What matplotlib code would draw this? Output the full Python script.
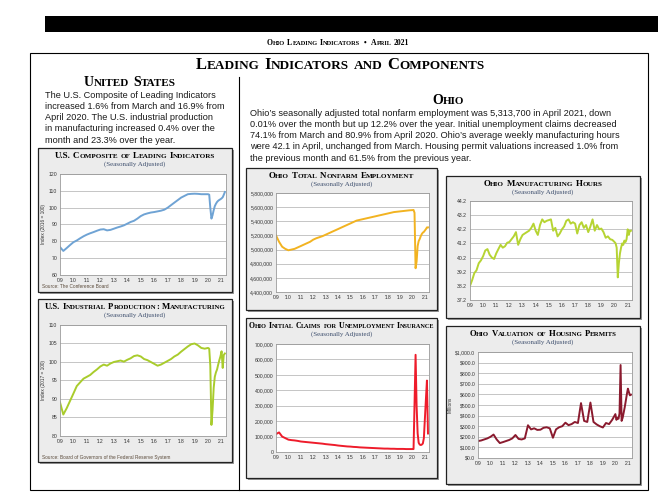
import numpy as np
import pandas as pd
import matplotlib
matplotlib.use('Agg')
import matplotlib.pyplot as plt
from matplotlib.patches import Rectangle
from matplotlib.offsetbox import TextArea, HPacker, AnnotationBbox

W, H = 658, 497
SERIF = 'Liberation Serif'
SANS = ['Liberation Sans', 'DejaVu Sans']
plt.rcParams['font.family'] = SANS

# ---- data (quarterly 2009-2019, monthly Jan 2020 - Apr 2021) ----
quarters = pd.date_range('2009-01-01', '2019-10-01', freq='QS')
bimonths = pd.date_range('2009-01-01', '2019-11-01', freq='2MS')
months = pd.date_range('2020-01-01', '2021-04-01', freq='MS')

composite_q = [76.6, 74.3, 76.0, 77.8, 79.5, 80.5, 81.8, 83.0, 84.0, 84.8, 85.5, 86.3,
               87.0, 87.2, 86.5, 86.8, 87.5, 88.2, 88.8, 89.5, 90.5, 91.5, 92.2, 93.5,
               95.0, 96.0, 96.6, 97.1, 97.4, 97.8, 98.2, 98.8, 100.0, 101.5, 103.0, 104.5,
               106.0, 107.0, 108.0, 108.2, 108.3, 108.2, 108.0, 108.0]
composite_m = [108.0, 107.7, 100.0, 93.5, 95.5, 98.5, 100.9, 102.3, 103.4, 104.1, 104.6, 105.0,
               105.5, 106.2, 107.6, 109.3]

ip_q = [89.1, 85.8, 87.5, 89.5, 91.5, 93.5, 94.5, 95.5, 96.0, 96.5, 97.3, 98.0,
        98.8, 99.3, 99.0, 99.6, 100.0, 100.2, 100.4, 100.1, 100.6, 101.0, 101.6, 101.8,
        101.5, 100.8, 100.5, 100.0, 99.5, 99.0, 99.3, 99.8, 100.3, 100.8, 101.5, 102.0,
        102.8, 103.5, 104.2, 104.8, 105.0, 104.5, 103.8, 103.6]
ip_m = [103.8, 103.6, 99.0, 83.0, 87.0, 93.0, 96.0, 97.2, 98.0, 99.3, 100.5, 101.5,
        102.9, 98.4, 101.9, 102.3]

nonfarm_q = [5200, 5110, 5040, 5010, 4990, 5000, 5010, 5030, 5050, 5070, 5090, 5110,
             5140, 5160, 5175, 5190, 5210, 5230, 5250, 5270, 5290, 5310, 5330, 5350,
             5370, 5390, 5410, 5420, 5430, 5440, 5450, 5460, 5470, 5480, 5490, 5500,
             5510, 5520, 5530, 5535, 5540, 5545, 5550, 5555]
nonfarm_m = [5558, 5560, 5520, 4736, 4830, 5050, 5120, 5150, 5190, 5220, 5240, 5250,
             5270, 5290, 5313.2, 5313.7]

hours_b = [38.2, 38.6, 39.1, 39.3, 39.8, 40.0,
           40.3, 40.7, 40.8, 40.4, 40.2, 40.1,
           40.5, 40.8, 41.1, 40.9, 41.0, 41.25,
           41.3, 41.5, 41.7, 42.0, 41.1, 41.5,
           41.8, 41.9, 42.0, 42.1, 42.3, 42.6,
           42.1, 41.8, 42.5, 42.9, 42.7, 42.8,
           42.85, 42.9, 42.1, 42.3, 41.7, 41.9,
           42.2, 42.4, 42.8, 42.9, 42.6, 42.7,
           42.6, 41.9, 42.5, 42.7, 42.3, 42.5,
           42.0, 42.4, 42.9, 42.1, 42.5, 42.2,
           42.25, 42.0, 41.6, 41.7, 41.5, 41.45]
hours_m = [41.3, 41.2, 40.9, 38.8, 39.8, 40.5, 40.9, 41.2, 41.1, 41.4, 41.3, 41.5,
           42.2, 41.8, 42.1, 42.1]

claims_q = [116, 127, 100, 90, 80, 77, 75, 72, 68, 66, 64, 62,
            60, 58, 56, 54, 51, 49, 47, 45, 42, 40, 38, 36,
            35, 33, 32, 30, 29, 28, 27, 26, 25, 24, 23, 22,
            22, 21, 21, 20, 20, 20, 19, 19]
claims_m = [19, 19, 310, 630, 300, 120, 60, 48, 45, 48, 55, 90, 220, 350, 463, 120]

housing_q = [160, 165, 175, 185, 200, 221, 175, 141, 150, 160, 170, 185,
             217, 180, 175, 185, 309, 270, 280, 265, 267, 285, 290, 280,
             191, 270, 290, 300, 333, 310, 320, 340, 330, 518, 350, 340,
             523, 340, 317, 300, 288, 330, 320, 361]
housing_m = [414, 360, 380, 370, 420, 877, 350, 380, 430, 480, 540, 600,
             654, 620, 591, 597]

years = list(range(2009, 2022))
year_labels = ["'%02d" % (y % 100) for y in years]

us_text = ["The U.S. Composite of Leading Indicators",
           "increased 1.6% from March and 16.9% from",
           "April 2020. The U.S. industrial production",
           "in manufacturing increased 0.4% over the",
           "month and 23.3% over the year."]
ohio_text = ["Ohio\u2019s seasonally adjusted total nonfarm employment was 5,313,700 in April 2021, down",
             "0.01% over the month but up 12.2% over the year. Initial unemployment claims decreased",
             "74.1% from March and 80.9% from April 2020. Ohio\u2019s average weekly manufacturing hours",
             "were 42.1 in April, unchanged from March. Housing permit valuations increased 1.0% from",
             "the previous month and 61.5% from the previous year."]

fig = plt.figure(figsize=(W / 100, H / 100), dpi=100)
bg = fig.add_axes([0, 0, 1, 1])
bg.set_xlim(0, W)
bg.set_ylim(H, 0)
bg.axis('off')


def small_caps(x, y, s, big, small, color='black'):
    words = []
    for w in s.split(' '):
        parts, run, run_big = [], '', None
        for ch in w:
            is_big = not ch.islower()
            if run and is_big != run_big:
                parts.append(TextArea(run, textprops=dict(size=big if run_big else small,
                                                          family=SERIF, weight='bold', color=color)))
                run = ''
            run += ch.upper()
            run_big = is_big
        parts.append(TextArea(run, textprops=dict(size=big if run_big else small,
                                                  family=SERIF, weight='bold', color=color)))
        words.append(HPacker(children=parts, align='baseline', pad=0, sep=0))
    box = HPacker(children=words, align='baseline', pad=0, sep=big * 0.28)
    ab = AnnotationBbox(box, (x, y), xycoords='data', frameon=False,
                        box_alignment=(0.5, 0.5), pad=0)
    bg.add_artist(ab)


def chart(box, plot, title, tsize, dates, values, ylim, ticks, labels, color,
          ylabel=None, source=None):
    x0, y0, x1, y1 = box
    # light shadow behind the panel
    bg.add_patch(Rectangle((x0 + 2, y0 + 2), x1 - x0, y1 - y0, fc='#9a9a9a', ec='none'))
    bg.add_patch(Rectangle((x0, y0), x1 - x0, y1 - y0, fc='#ececec', ec='#222222', lw=0.9))
    small_caps((x0 + x1) / 2, y0 + 8, title, tsize, tsize * 0.8)
    bg.text((x0 + x1) / 2, y0 + 16.5, '(Seasonally Adjusted)', ha='center', va='center',
            family=SERIF, size=5, color='#3e4f6e')
    px0, py0, px1, py1 = plot
    ax = fig.add_axes([px0 / W, 1 - py1 / H, (px1 - px0) / W, (py1 - py0) / H])
    ax.set_facecolor('white')
    ax.plot(dates, values, color=color, lw=1.4)
    ax.set_xlim(pd.Timestamp('2009-01-01'), pd.Timestamp('2021-05-01'))
    ax.set_ylim(*ylim)
    ax.set_yticks(ticks, labels)
    ax.set_xticks([pd.Timestamp(f'{y}-01-01') for y in years], year_labels)
    ax.grid(axis='y', color='#bcbcbc', lw=0.6)
    ax.set_axisbelow(True)
    ax.tick_params(labelsize=3.7, length=0, pad=2, colors='#333333')
    for sp in ax.spines.values():
        sp.set_color('#9a9a9a')
        sp.set_linewidth(0.6)
    if ylabel:
        ax.set_ylabel(ylabel, fontsize=3.4, labelpad=2, color='#333333')
    if source:
        bg.text(x0 + 4, y1 - 5, source, ha='left', va='center', size=3.4, color='#5a4a3a')
    return ax


# ---- page ----
bg.add_patch(Rectangle((45, 16), 613, 16, fc='black', ec='none'))
small_caps(338, 43, 'Ohio Leading Indicators  \u2022  April 2021', 5.6, 4.6)
bg.add_patch(Rectangle((30, 53), 618, 437, fill=False, ec='black', lw=0.8))
bg.plot([239, 239], [77, 490], color='black', lw=0.8)
small_caps(340, 65, 'Leading Indicators and Components', 12, 9.5)
small_caps(130, 82, 'United States', 10, 8)
small_caps(448, 100, 'Ohio', 10, 8)
for i, line in enumerate(us_text):
    bg.text(45, 95 + i * 11.3, line, ha='left', va='center', size=6.6, color='#1a1a1a')
for i, line in enumerate(ohio_text):
    bg.text(250, 113 + i * 11.3, line, ha='left', va='center', size=6.6, color='#1a1a1a')

all_q = list(quarters) + list(months)
chart((38, 148, 232, 292), (60, 174, 226, 275), 'U.S. Composite of Leading Indicators', 6.4,
      all_q, composite_q + composite_m, (60, 120), range(60, 121, 10),
      [str(v) for v in range(60, 121, 10)], '#6fa3d4',
      ylabel='Index (2016 = 100)', source='Source: The Conference Board')
chart((38, 299, 232, 462), (60, 325, 226, 436), 'U.S. Industrial Production: Manufacturing', 6.2,
      all_q, ip_q + ip_m, (80, 110), range(80, 111, 5),
      [str(v) for v in range(80, 111, 5)], '#a9cc2c',
      ylabel='Index (2017 = 100)',
      source='Source: Board of Governors of the Federal Reserve System')
nf_ticks = list(range(4400000, 5800001, 200000))
chart((246, 168, 437, 310), (276, 193, 429, 292), 'Ohio Total Nonfarm Employment', 6.4,
      all_q, [v * 1000 for v in nonfarm_q + nonfarm_m], (4400000, 5800000), nf_ticks,
      [f'{v:,}' for v in nf_ticks], '#f2b321')
hr_ticks = [37.2 + i for i in range(8)]
chart((446, 176, 640, 318), (470, 201, 632, 300), 'Ohio Manufacturing Hours', 6.4,
      list(bimonths) + list(months), hours_b + hours_m, (37.2, 44.2), hr_ticks,
      [f'{v:.1f}' for v in hr_ticks], '#b6d433')
cl_ticks = list(range(0, 700001, 100000))
chart((246, 318, 437, 478), (276, 344, 429, 452), 'Ohio Initial Claims for Unemployment Insurance', 5.6,
      all_q, [v * 1000 for v in claims_q + claims_m], (0, 700000), cl_ticks,
      [f'{v:,}' if v else '0' for v in cl_ticks], '#ee1c2b')
hs_ticks = list(range(0, 1001, 100))
chart((446, 326, 640, 484), (478, 352, 632, 458), 'Ohio Valuation of Housing Permits', 6.2,
      all_q, housing_q + housing_m, (0, 1000), hs_ticks,
      [f'${v:,}.0' for v in hs_ticks], '#8a1a2e', ylabel='Millions')

fig.savefig('out.png', dpi=100)
